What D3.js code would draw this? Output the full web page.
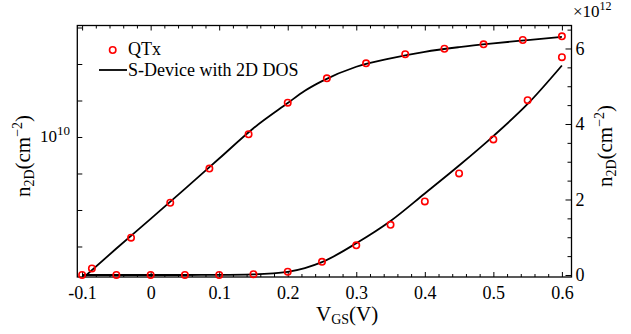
<!DOCTYPE html>
<html>
<head>
<meta charset="utf-8">
<script src="https://cdn.jsdelivr.net/npm/d3@7"></script>
<style>
  body { margin: 0; background: #fff; }
</style>
</head>
<body>
<svg id="chart" width="631" height="334" font-family="'Liberation Serif', 'DejaVu Serif', serif"></svg>
<script>
// S-Device (2D DOS) curve, same data drawn on the log (left) and linear (right) axes
const lineVgs = [-0.1, -0.05, 0, 0.05, 0.1, 0.15, 0.2, 0.225, 0.25, 0.3, 0.35, 0.4, 0.45, 0.5, 0.55, 0.6];
const lineN = [1.3e6, 8.8e6, 5.7e7, 3.8e8, 2.57e9, 1.74e10, 8.5e10, 1.85e11, 3.4e11, 8.4e11,
  1.43e12, 2.16e12, 2.9e12, 3.68e12, 4.53e12, 5.55e12];

// QTx points on the log axis
const qtxLogVgs = [-0.0857, -0.0286, 0.0286, 0.0857, 0.1429, 0.2, 0.2571, 0.3143, 0.3714, 0.4286, 0.4857, 0.5429, 0.6];
const qtxLogN = [2.5e6, 1.74e7, 1.58e8, 1.36e9, 1.19e10, 8.7e10, 4.06e11, 1.045e12, 1.85e12, 2.62e12, 3.47e12, 4.55e12, 5.74e12];

// QTx points on the linear axis
const qtxLinVgs = [-0.1, -0.05, 0, 0.05, 0.1, 0.15, 0.2, 0.25, 0.3, 0.35, 0.4, 0.45, 0.5, 0.55, 0.6];
const qtxLinN = [0, 0, 0, 0, 0, 0.02e12, 0.087e12, 0.35e12, 0.787e12, 1.33e12, 1.95e12, 2.69e12, 3.59e12, 4.63e12, 5.77e12];

const xTicks = [-0.1, 0, 0.1, 0.2, 0.3, 0.4, 0.5, 0.6];
const logTicks = [1e7, 1e8, 1e9, 1e10, 1e11, 1e12, 1e13];
const linTicks = [0, 2e12, 4e12, 6e12];

const frame = { left: 77.3, right: 571.5, top: 25.5, bottom: 277 };
const red = '#ff0000';

const svg = d3.select('#chart');

const x = d3.scaleLinear().domain([-0.107, 0.614]).range([frame.left, frame.right]);
const yLog = d3.scaleLog().domain([Math.pow(10, 6.164), Math.pow(10, 13.055)]).range([frame.bottom, frame.top]);
const yLin = d3.scaleLinear().domain([-0.053e12, 6.609e12]).range([frame.bottom, frame.top]);

const minorX = d3.range(-0.1, 0.6001, 0.02).filter(v => xTicks.every(t => Math.abs(t - v) > 1e-6));
const minorLin = d3.range(0, 6.5001e12, 0.5e12).filter(v => linTicks.every(t => Math.abs(t - v) > 1));

const fmtX = d => (d === 0 ? '0' : d3.format('.1f')(d).replace('\u2212', '-'));

function styleAxis(g) {
  g.attr('font-family', null);
  g.select('.domain').remove();
  g.selectAll('.tick line').attr('stroke', '#000').attr('stroke-width', 1);
  g.selectAll('.tick text').style('font-size', '18px');
}

// bottom axis
svg.append('g').attr('transform', `translate(0,${frame.bottom})`)
  .call(d3.axisBottom(x).tickValues(xTicks).tickSize(-5).tickPadding(9).tickFormat(fmtX))
  .call(styleAxis);
svg.append('g').attr('transform', `translate(0,${frame.bottom})`)
  .call(d3.axisBottom(x).tickValues(minorX).tickSize(-3).tickFormat(''))
  .call(styleAxis);

// top axis (mirror)
svg.append('g').attr('transform', `translate(0,${frame.top})`)
  .call(d3.axisTop(x).tickValues(xTicks).tickSize(-5).tickFormat(''))
  .call(styleAxis);
svg.append('g').attr('transform', `translate(0,${frame.top})`)
  .call(d3.axisTop(x).tickValues(minorX).tickSize(-3).tickFormat(''))
  .call(styleAxis);

// left log axis, only 10^10 is labelled
svg.append('g').attr('transform', `translate(${frame.left},0)`)
  .call(d3.axisLeft(yLog).tickValues(logTicks).tickSize(-5).tickFormat(''))
  .call(styleAxis);
const lab10 = svg.append('text')
  .attr('x', 70).attr('y', yLog(1e10) + 5.5)
  .attr('text-anchor', 'end')
  .attr('font-size', 17);
lab10.append('tspan').text('10');
lab10.append('tspan').attr('dy', -7).attr('font-size', 13).text('10');

// right linear axis
svg.append('g').attr('transform', `translate(${frame.right},0)`)
  .call(d3.axisRight(yLin).tickValues(linTicks).tickSize(-6).tickPadding(4).tickFormat(d => d / 1e12))
  .call(styleAxis)
  .call(g => g.selectAll('.tick text').attr('dy', '0.33em'));
svg.append('g').attr('transform', `translate(${frame.right},0)`)
  .call(d3.axisRight(yLin).tickValues(minorLin).tickSize(-4).tickFormat(''))
  .call(styleAxis);

const mult = svg.append('text').attr('x', 573).attr('y', 16.5).attr('font-size', 17);
mult.append('tspan').text('\u00d710');
mult.append('tspan').attr('dy', -7).attr('font-size', 12).text('12');

// frame
svg.append('rect')
  .attr('x', frame.left).attr('y', frame.top)
  .attr('width', frame.right - frame.left).attr('height', frame.bottom - frame.top)
  .attr('fill', 'none').attr('stroke', '#000').attr('stroke-width', 1.3);

// curves
const plot = svg.append('g');
plot.append('clipPath').attr('id', 'clip').append('rect')
  .attr('x', frame.left).attr('y', frame.top)
  .attr('width', frame.right - frame.left).attr('height', frame.bottom - frame.top);
const inner = plot.append('g').attr('clip-path', 'url(#clip)');

const lineData = lineVgs.map((v, i) => ({ v, n: lineN[i] }));
inner.append('path').datum(lineData)
  .attr('fill', 'none').attr('stroke', '#000').attr('stroke-width', 1.8)
  .attr('d', d3.line().curve(d3.curveMonotoneX).x(d => x(d.v)).y(d => yLog(d.n)));
inner.append('path').datum(lineData)
  .attr('fill', 'none').attr('stroke', '#000').attr('stroke-width', 1.8)
  .attr('d', d3.line().curve(d3.curveMonotoneX).x(d => x(d.v)).y(d => yLin(d.n)));

plot.selectAll('circle.qlog').data(qtxLogVgs.map((v, i) => ({ v, n: qtxLogN[i] })))
  .join('circle').attr('class', 'qlog')
  .attr('cx', d => x(d.v)).attr('cy', d => yLog(d.n)).attr('r', 3.2)
  .attr('fill', 'none').attr('stroke', red).attr('stroke-width', 1.6);
plot.selectAll('circle.qlin').data(qtxLinVgs.map((v, i) => ({ v, n: qtxLinN[i] })))
  .join('circle').attr('class', 'qlin')
  .attr('cx', d => x(d.v)).attr('cy', d => yLin(d.n)).attr('r', 3.2)
  .attr('fill', 'none').attr('stroke', red).attr('stroke-width', 1.6);

// legend
svg.append('circle').attr('cx', 112.7).attr('cy', 50).attr('r', 3.2)
  .attr('fill', 'none').attr('stroke', red).attr('stroke-width', 1.6);
svg.append('text').attr('x', 128).attr('y', 55).attr('font-size', 18).text('QTx');
svg.append('line').attr('x1', 99).attr('x2', 127).attr('y1', 70).attr('y2', 70)
  .attr('stroke', '#000').attr('stroke-width', 1.8);
svg.append('text').attr('x', 128).attr('y', 75.5).attr('font-size', 18).text('S-Device with 2D DOS');

// axis titles
const xt = svg.append('text').attr('x', 316).attr('y', 321).attr('font-size', 21);
xt.append('tspan').text('V');
xt.append('tspan').attr('dy', 3).attr('font-size', 14).text('GS');
xt.append('tspan').attr('dy', -3).text('(V)');

function nTitle(cx, cy) {
  const t = svg.append('text')
    .attr('transform', `translate(${cx},${cy}) rotate(-90)`)
    .attr('text-anchor', 'middle')
    .attr('font-size', 21);
  t.append('tspan').text('n');
  t.append('tspan').attr('dy', 4).attr('font-size', 14).text('2D');
  t.append('tspan').attr('dy', -4).text('(cm');
  t.append('tspan').attr('dy', -8).attr('font-size', 14).text('\u22122');
  t.append('tspan').attr('dy', 8).text(')');
}
nTitle(30, 156);
nTitle(612, 146);
</script>
</body>
</html>
